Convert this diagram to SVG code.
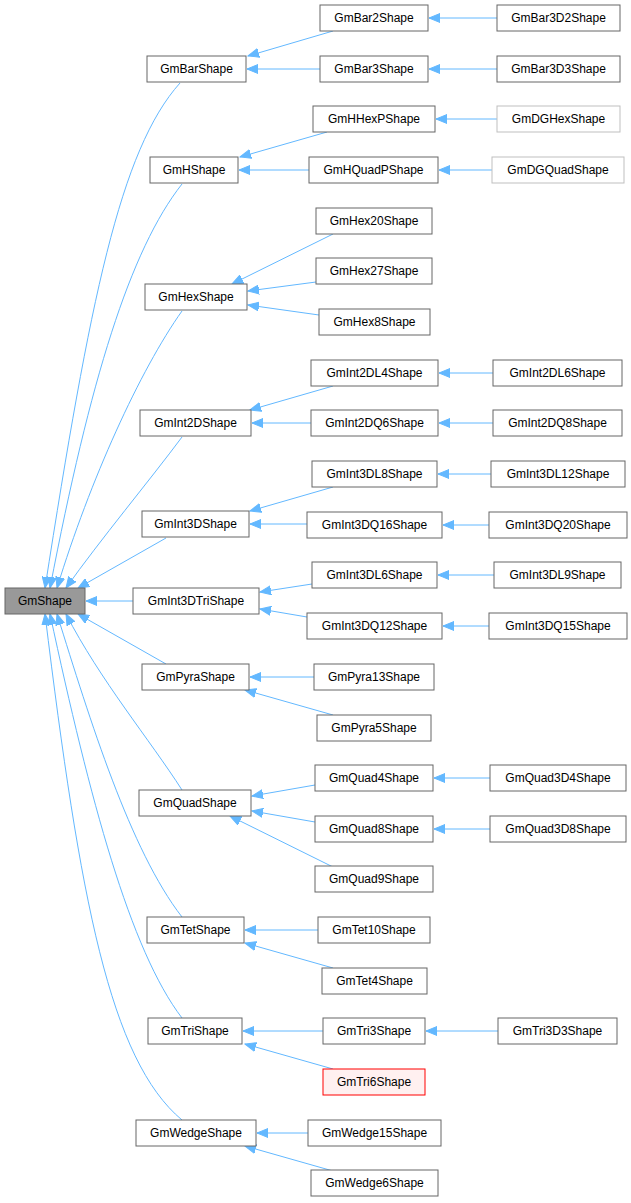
<svg xmlns="http://www.w3.org/2000/svg" width="631" height="1203" viewBox="0 0 631 1203">
<style>
.n rect{fill:#fff;stroke:#666;stroke-width:1}
.n text{font-family:"Liberation Sans",Arial,sans-serif;font-size:12px;fill:#000;text-anchor:middle}
#GmShape rect{fill:#999;stroke:#666}
#GmDGHexShape rect,#GmDGQuadShape rect{stroke:#bfbfbf}
#GmTri6Shape rect{fill:#fff0f0;stroke:#f00}
.e path{fill:none;stroke:#63b8ff;stroke-width:1;marker-end:url(#a)}
</style>
<defs><marker id="a" markerWidth="12" markerHeight="10" refX="11" refY="5" orient="auto" markerUnits="userSpaceOnUse"><path d="M0,0.5 L11,5 L0,9.5 Z" fill="#63b8ff" stroke="#63b8ff"/></marker></defs>
<g class="e">
<path d="M180,83 C120,150 90,300 45,588"/>
<path d="M182,184 C130,250 90,380 50,588"/>
<path d="M182,311 C140,370 90,480 57,588"/>
<path d="M182,437 C150,480 100,540 66,588"/>
<path d="M166,538 L78,588"/>
<path d="M133,601 L86,601"/>
<path d="M166,664 L78,614"/>
<path d="M182,790 C150,740 100,680 66,614"/>
<path d="M182,917 C130,850 90,720 57,614"/>
<path d="M182,1018 C130,950 90,800 50,614"/>
<path d="M182,1120 C110,1060 80,900 45,614"/>
<path d="M333,31 L248,56"/>
<path d="M320,69 L247,69"/>
<path d="M327,132 L240,157"/>
<path d="M309,170 L239,170"/>
<path d="M333,234 L232,284"/>
<path d="M316,282 L248,291"/>
<path d="M319,315 L248,305"/>
<path d="M333,386 L250,410"/>
<path d="M311,423 L252,423"/>
<path d="M333,487 L250,511"/>
<path d="M307,524 L250,524"/>
<path d="M312,584 L260,592"/>
<path d="M307,617 L260,609"/>
<path d="M314,677 L250,677"/>
<path d="M333,715 L245,690"/>
<path d="M315,785 L252,796"/>
<path d="M315,822 L252,811"/>
<path d="M333,867 L230,816"/>
<path d="M318,930 L245,930"/>
<path d="M333,968 L245,943"/>
<path d="M323,1031 L243,1031"/>
<path d="M333,1069 L245,1044"/>
<path d="M308,1133 L257,1133"/>
<path d="M333,1171 L245,1146"/>
<path d="M497,18 L429,18"/>
<path d="M497,69 L429,69"/>
<path d="M497,119 L436,119"/>
<path d="M492,170 L439,170"/>
<path d="M493,373 L439,373"/>
<path d="M493,423 L439,423"/>
<path d="M491,474 L438,474"/>
<path d="M489,525 L443,525"/>
<path d="M494,575 L438,575"/>
<path d="M489,626 L443,626"/>
<path d="M490,778 L434,778"/>
<path d="M490,829 L434,829"/>
<path d="M498,1031 L426,1031"/>
</g>
<g class="n" id="GmShape"><rect x="5" y="588" width="80" height="26"/><text x="45" y="605">GmShape</text></g>
<g class="n" id="GmBarShape"><rect x="147" y="56" width="99" height="26"/><text x="196.5" y="73">GmBarShape</text></g>
<g class="n" id="GmHShape"><rect x="150" y="157" width="88" height="26"/><text x="194" y="174">GmHShape</text></g>
<g class="n" id="GmHexShape"><rect x="145" y="284" width="102" height="26"/><text x="196" y="301">GmHexShape</text></g>
<g class="n" id="GmInt2DShape"><rect x="140" y="410" width="111" height="26"/><text x="195.5" y="427">GmInt2DShape</text></g>
<g class="n" id="GmInt3DShape"><rect x="142" y="511" width="107" height="26"/><text x="195.5" y="528">GmInt3DShape</text></g>
<g class="n" id="GmInt3DTriShape"><rect x="133" y="588" width="126" height="26"/><text x="196" y="605">GmInt3DTriShape</text></g>
<g class="n" id="GmPyraShape"><rect x="142" y="664" width="107" height="26"/><text x="195.5" y="681">GmPyraShape</text></g>
<g class="n" id="GmQuadShape"><rect x="139" y="790" width="112" height="26"/><text x="195" y="807">GmQuadShape</text></g>
<g class="n" id="GmTetShape"><rect x="147" y="917" width="97" height="26"/><text x="195.5" y="934">GmTetShape</text></g>
<g class="n" id="GmTriShape"><rect x="148" y="1018" width="94" height="26"/><text x="195" y="1035">GmTriShape</text></g>
<g class="n" id="GmWedgeShape"><rect x="136" y="1120" width="120" height="26"/><text x="196" y="1137">GmWedgeShape</text></g>
<g class="n" id="GmBar2Shape"><rect x="320" y="5" width="108" height="26"/><text x="374" y="22">GmBar2Shape</text></g>
<g class="n" id="GmBar3Shape"><rect x="320" y="56" width="108" height="26"/><text x="374" y="73">GmBar3Shape</text></g>
<g class="n" id="GmHHexPShape"><rect x="313" y="106" width="122" height="26"/><text x="374" y="123">GmHHexPShape</text></g>
<g class="n" id="GmHQuadPShape"><rect x="309" y="157" width="129" height="26"/><text x="373.5" y="174">GmHQuadPShape</text></g>
<g class="n" id="GmHex20Shape"><rect x="316" y="208" width="116" height="26"/><text x="374" y="225">GmHex20Shape</text></g>
<g class="n" id="GmHex27Shape"><rect x="316" y="258" width="116" height="26"/><text x="374" y="275">GmHex27Shape</text></g>
<g class="n" id="GmHex8Shape"><rect x="319" y="309" width="111" height="26"/><text x="374.5" y="326">GmHex8Shape</text></g>
<g class="n" id="GmInt2DL4Shape"><rect x="311" y="360" width="127" height="26"/><text x="374.5" y="377">GmInt2DL4Shape</text></g>
<g class="n" id="GmInt2DQ6Shape"><rect x="311" y="410" width="127" height="26"/><text x="374.5" y="427">GmInt2DQ6Shape</text></g>
<g class="n" id="GmInt3DL8Shape"><rect x="312" y="461" width="125" height="26"/><text x="374.5" y="478">GmInt3DL8Shape</text></g>
<g class="n" id="GmInt3DQ16Shape"><rect x="307" y="512" width="135" height="26"/><text x="374.5" y="529">GmInt3DQ16Shape</text></g>
<g class="n" id="GmInt3DL6Shape"><rect x="312" y="562" width="125" height="26"/><text x="374.5" y="579">GmInt3DL6Shape</text></g>
<g class="n" id="GmInt3DQ12Shape"><rect x="307" y="613" width="135" height="26"/><text x="374.5" y="630">GmInt3DQ12Shape</text></g>
<g class="n" id="GmPyra13Shape"><rect x="314" y="664" width="120" height="26"/><text x="374" y="681">GmPyra13Shape</text></g>
<g class="n" id="GmPyra5Shape"><rect x="317" y="715" width="114" height="26"/><text x="374" y="732">GmPyra5Shape</text></g>
<g class="n" id="GmQuad4Shape"><rect x="315" y="765" width="118" height="26"/><text x="374" y="782">GmQuad4Shape</text></g>
<g class="n" id="GmQuad8Shape"><rect x="315" y="816" width="118" height="26"/><text x="374" y="833">GmQuad8Shape</text></g>
<g class="n" id="GmQuad9Shape"><rect x="315" y="866" width="118" height="26"/><text x="374" y="883">GmQuad9Shape</text></g>
<g class="n" id="GmTet10Shape"><rect x="318" y="917" width="112" height="26"/><text x="374" y="934">GmTet10Shape</text></g>
<g class="n" id="GmTet4Shape"><rect x="322" y="968" width="105" height="26"/><text x="374.5" y="985">GmTet4Shape</text></g>
<g class="n" id="GmTri3Shape"><rect x="323" y="1018" width="102" height="26"/><text x="374" y="1035">GmTri3Shape</text></g>
<g class="n" id="GmTri6Shape"><rect x="323" y="1069" width="102" height="26"/><text x="374" y="1086">GmTri6Shape</text></g>
<g class="n" id="GmWedge15Shape"><rect x="308" y="1120" width="133" height="26"/><text x="374.5" y="1137">GmWedge15Shape</text></g>
<g class="n" id="GmWedge6Shape"><rect x="311" y="1170" width="127" height="26"/><text x="374.5" y="1187">GmWedge6Shape</text></g>
<g class="n" id="GmBar3D2Shape"><rect x="497" y="5" width="123" height="26"/><text x="558.5" y="22">GmBar3D2Shape</text></g>
<g class="n" id="GmBar3D3Shape"><rect x="497" y="56" width="123" height="26"/><text x="558.5" y="73">GmBar3D3Shape</text></g>
<g class="n" id="GmDGHexShape"><rect x="497" y="106" width="123" height="26"/><text x="558.5" y="123">GmDGHexShape</text></g>
<g class="n" id="GmDGQuadShape"><rect x="492" y="157" width="132" height="26"/><text x="558" y="174">GmDGQuadShape</text></g>
<g class="n" id="GmInt2DL6Shape"><rect x="493" y="360" width="129" height="26"/><text x="557.5" y="377">GmInt2DL6Shape</text></g>
<g class="n" id="GmInt2DQ8Shape"><rect x="493" y="410" width="129" height="26"/><text x="557.5" y="427">GmInt2DQ8Shape</text></g>
<g class="n" id="GmInt3DL12Shape"><rect x="491" y="461" width="134" height="26"/><text x="558" y="478">GmInt3DL12Shape</text></g>
<g class="n" id="GmInt3DQ20Shape"><rect x="489" y="512" width="138" height="26"/><text x="558" y="529">GmInt3DQ20Shape</text></g>
<g class="n" id="GmInt3DL9Shape"><rect x="494" y="562" width="127" height="26"/><text x="557.5" y="579">GmInt3DL9Shape</text></g>
<g class="n" id="GmInt3DQ15Shape"><rect x="489" y="613" width="138" height="26"/><text x="558" y="630">GmInt3DQ15Shape</text></g>
<g class="n" id="GmQuad3D4Shape"><rect x="490" y="765" width="136" height="26"/><text x="558" y="782">GmQuad3D4Shape</text></g>
<g class="n" id="GmQuad3D8Shape"><rect x="490" y="816" width="136" height="26"/><text x="558" y="833">GmQuad3D8Shape</text></g>
<g class="n" id="GmTri3D3Shape"><rect x="498" y="1018" width="119" height="26"/><text x="557.5" y="1035">GmTri3D3Shape</text></g>
</svg>
